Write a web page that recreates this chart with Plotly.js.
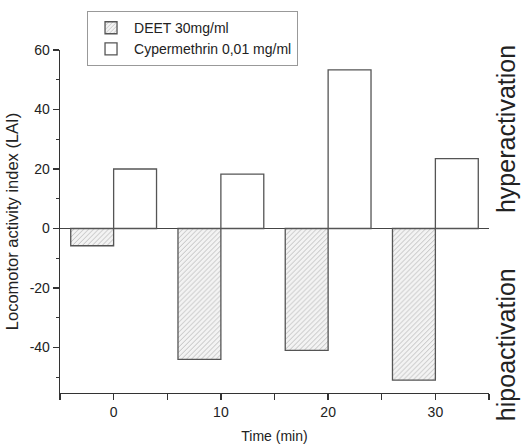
<!DOCTYPE html>
<html>
<head>
<meta charset="utf-8">
<script src="https://cdn.plot.ly/plotly-3.0.1.min.js"></script>
<style>html,body{margin:0;padding:0;background:#fff;}#chart{width:522px;height:446px;}</style>
</head>
<body>
<div id="chart"></div>
<script>
var times = [0, 10, 20, 30];
var seriesNames = ["DEET 30mg/ml", "Cypermethrin 0,01 mg/ml"];
var deet = [-5.8, -44, -41, -51];
var cypermethrin = [20, 18.3, 53.3, 23.5];
var yTickVals = [-40, -20, 0, 20, 40, 60];
var yTickText = ["-40", "-20", "0", "20", "40", "60"];
var sideLabels = ["hyperactivation", "hipoactivation"];

var FONT = "Liberation Sans, Arial, sans-serif";
var INK = "#333";

var traces = [
  {
    type: "bar", name: seriesNames[0], x: times, y: deet,
    width: 4, offset: -4,
    marker: {
      color: "#f0f0f0",
      line: {color: "#555", width: 1.3},
      pattern: {shape: "/", fgcolor: "#b0b0b0", bgcolor: "#f3f3f3", size: 3.5, solidity: 0.22}
    }
  },
  {
    type: "bar", name: seriesNames[1], x: times, y: cypermethrin,
    width: 4, offset: 0,
    marker: {color: "#ffffff", line: {color: "#555", width: 1.3}}
  }
];

var layout = {
  width: 522, height: 446,
  margin: {l: 60, r: 33, t: 49, b: 53},
  paper_bgcolor: "#fff", plot_bgcolor: "#fff",
  font: {family: FONT, size: 12, color: INK},
  barmode: "overlay",
  showlegend: true,
  legend: {
    x: 0.063, y: 1.11, xanchor: "left", yanchor: "top",
    bordercolor: "#999", borderwidth: 1, bgcolor: "#fff",
    font: {family: FONT, size: 14, color: "#222"},
    itemwidth: 36,
    tracegroupgap: 0, traceorder: "normal"
  },
  xaxis: {
    range: [-5, 35], tickvals: times, ticktext: times.map(String),
    showgrid: false, zeroline: false,
    showline: true, linecolor: INK, linewidth: 1.3,
    ticks: "outside", ticklen: 6, tickwidth: 1.3, tickcolor: INK,
    minor: {tickvals: [-5, 5, 15, 25, 35], ticks: "outside", ticklen: 6, tickwidth: 1.3, tickcolor: INK},
    tickfont: {family: FONT, size: 14, color: "#222"},
    title: {text: "Time (min)", font: {family: FONT, size: 14, color: "#222"}, standoff: 12},
    fixedrange: true
  },
  yaxis: {
    range: [-55.3, 60], tickvals: yTickVals, ticktext: yTickText,
    showgrid: false,
    zeroline: true, zerolinecolor: "#444", zerolinewidth: 1.4,
    showline: true, linecolor: INK, linewidth: 1.3,
    ticks: "outside", ticklen: 6, tickwidth: 1.3, tickcolor: INK,
    minor: {tickvals: [-50, -30, -10, 10, 30, 50], ticks: "outside", ticklen: 3, tickwidth: 1.3, tickcolor: INK},
    tickfont: {family: FONT, size: 14, color: "#222"},
    title: {text: "Locomotor activity index (LAI)", font: {family: FONT, size: 16.5, color: "#222"}, standoff: 7},
    fixedrange: true
  },
  annotations: [
    {text: sideLabels[0], xref: "paper", yref: "paper", x: 1.04, y: 0.77, xanchor: "center", yanchor: "middle",
     textangle: -90, showarrow: false, font: {family: FONT, size: 25, color: "#222"}},
    {text: sideLabels[1], xref: "paper", yref: "paper", x: 1.04, y: 0.14, xanchor: "center", yanchor: "middle",
     textangle: -90, showarrow: false, font: {family: FONT, size: 25, color: "#222"}}
  ]
};

Plotly.newPlot("chart", traces, layout, {staticPlot: true, displayModeBar: false});
</script>
</body>
</html>
